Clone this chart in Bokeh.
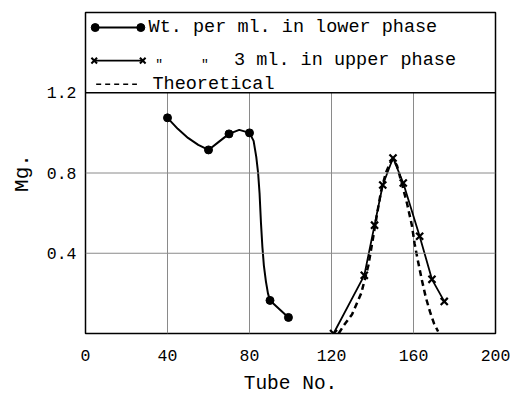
from bokeh.plotting import figure
from bokeh.models import Range1d, FixedTicker, Span
from bokeh.embed import file_html
from bokeh.resources import INLINE
from bokeh.core.properties import value

# ---- data ----
lower_tube = [40, 60, 70, 80, 90, 99]
lower_mg = [1.075, 0.915, 0.995, 1.0, 0.165, 0.08]
# hand-drawn smooth curve through the lower-phase points
lower_curve_tube = [40, 45, 50, 55, 60, 65, 70, 75, 80, 82, 83.3, 84.2, 84.9, 85.6, 86.3, 87, 88, 89, 90, 99]
lower_curve_mg = [1.075, 1.02, 0.975, 0.94, 0.915, 0.955, 0.995, 1.015, 1.0, 0.96, 0.88, 0.8, 0.7,
                  0.55, 0.43, 0.34, 0.26, 0.2, 0.165, 0.08]
upper_tube = [121, 136, 141, 145, 150, 155, 163, 169, 175]
upper_mg = [0.0, 0.29, 0.54, 0.74, 0.875, 0.75, 0.485, 0.27, 0.16]
theory_tube = [123.5, 126, 130, 134.5, 138, 140, 142.3, 144.2, 146.5, 148.6, 150, 152, 154.5,
               156.8, 159.2, 160.5, 162, 164, 166, 168, 170, 172]
theory_mg = [0.0, 0.04, 0.095, 0.2, 0.34, 0.46, 0.6, 0.71, 0.8, 0.85, 0.87, 0.835, 0.74,
             0.65, 0.54, 0.45, 0.37, 0.27, 0.18, 0.11, 0.05, 0.01]
x_ticks = [0, 40, 80, 120, 160, 200]
y_ticks = [0.4, 0.8, 1.2]
legend_labels = ["Wt. per ml. in lower phase", "3 ml. in upper phase", "Theoretical"]

FONT = "Liberation Mono"
X_MIN, X_MAX, Y_MIN, Y_MAX = 0, 200, 0, 1.6

p = figure(width=510, height=397, output_backend="svg", toolbar_location=None,
           x_range=Range1d(X_MIN, X_MAX), y_range=Range1d(Y_MIN, Y_MAX),
           min_border_left=85, min_border_right=15, min_border_top=12, min_border_bottom=57)
p.background_fill_color = "white"
p.border_fill_color = "white"
p.outline_line_color = "black"
p.outline_line_width = 1.5
p.xgrid.visible = False
p.ygrid.visible = False

# grid: vertical lines only below the legend box
p.segment(x0=x_ticks[1:-1], y0=[Y_MIN] * 4, x1=x_ticks[1:-1], y1=[y_ticks[-1]] * 4,
          line_color="#8a8a8a", line_width=1)
for yv in y_ticks[:-1]:
    p.add_layout(Span(location=yv, dimension="width", line_color="#8a8a8a", line_width=1))
p.add_layout(Span(location=y_ticks[-1], dimension="width", line_color="black", line_width=1.3))

# axes
for ax in (p.xaxis[0], p.yaxis[0]):
    ax.axis_line_color = None
    ax.major_tick_line_color = None
    ax.minor_tick_line_color = None
    ax.major_label_text_font = FONT
    ax.major_label_text_font_size = "16.5px"
    ax.major_label_text_color = "black"
    ax.axis_label_text_font = FONT
    ax.axis_label_text_font_style = "normal"
    ax.axis_label_text_color = "black"
p.xaxis.ticker = FixedTicker(ticks=x_ticks)
p.yaxis.ticker = FixedTicker(ticks=y_ticks)
p.xaxis.major_label_standoff = 10
p.yaxis.major_label_standoff = 3
p.xaxis.axis_label = "Tube No."
p.yaxis.axis_label = "Mg."
p.xaxis.axis_label_text_font_size = "19.5px"
p.yaxis.axis_label_text_font_size = "21px"
p.xaxis.axis_label_standoff = 9
p.yaxis.axis_label_standoff = 10

# data
p.line(lower_curve_tube, lower_curve_mg, line_color="black", line_width=2)
p.scatter(lower_tube, lower_mg, marker="circle", size=8, fill_color="black", line_color="black")
p.line(theory_tube, theory_mg, line_color="black", line_width=2.5, line_dash="6 4")
p.line(upper_tube, upper_mg, line_color="black", line_width=1.8)
p.scatter(upper_tube, upper_mg, marker="x", size=10, line_color="black", line_width=2.2)

# legend drawn inside the top box (positions measured in reference pixels)
def px2x(px):
    return (px - 88) / 2.1125

rows = [1.525, 1.36, 1.242]
p.line([px2x(98), px2x(145)], [rows[0]] * 2, line_color="black", line_width=2)
p.scatter([px2x(98), px2x(145)], [rows[0]] * 2, marker="circle", size=8, fill_color="black", line_color="black")
p.line([px2x(97), px2x(147)], [rows[1]] * 2, line_color="black", line_width=1.8)
p.scatter([px2x(97), px2x(147)], [rows[1]] * 2, marker="x", size=8, line_color="black", line_width=2)
p.line([px2x(99), px2x(141)], [rows[2]] * 2, line_color="black", line_width=1.5, line_dash="5 4")

p.text(x=[px2x(153), px2x(241), px2x(157)], y=rows, text=legend_labels,
       text_font=value(FONT), text_font_size="18.5px", text_baseline="middle", text_color="black")
p.text(x=[px2x(160), px2x(207)], y=[rows[1]] * 2, text=['"', '"'],
       text_font=value(FONT), text_font_size="13px", text_baseline="middle", text_color="black",
       y_offset=4)

open("out.html", "w").write(file_html(p, INLINE))
